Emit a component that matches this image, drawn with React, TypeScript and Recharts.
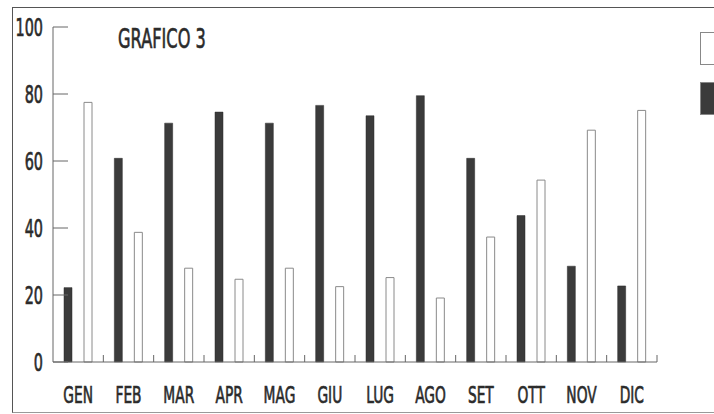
import { BarChart, Bar, XAxis, YAxis, Legend } from "recharts";

const months = ["GEN", "FEB", "MAR", "APR", "MAG", "GIU", "LUG", "AGO", "SET", "OTT", "NOV", "DIC"];
const darkValues = [22.2, 60.8, 71.3, 74.6, 71.3, 76.6, 73.5, 79.5, 60.8, 43.7, 28.6, 22.7];
const lightValues = [77.5, 38.7, 28.0, 24.7, 28.0, 22.5, 25.2, 19.1, 37.3, 54.3, 69.2, 75.1];
const yTicks = [0, 20, 40, 60, 80, 100];

const data = months.map((m, i) => ({ month: m, scuri: darkValues[i], chiari: lightValues[i] }));

const W = 714;
const H = 414;
const Y_AXIS_W = 53;
const RIGHT = 57;
const BAND = (W - Y_AXIS_W - RIGHT) / months.length;

const FONT = "DejaVu Sans";
const INK = "#2b2b2b";
const DARK = "#3b3b3b";

// ticks point inward, labels squeezed to look like the condensed print face
const YTick = (props: any) => {
  const { x, y, payload } = props;
  return (
    <g>
      <line x1={x} x2={x + 15} y1={y} y2={y} stroke="#666" strokeWidth={1} />
      <text
        transform={`translate(${x - 10},${y + 9}) scale(0.6,1)`}
        textAnchor="end"
        fontSize={24}
        fontFamily={FONT}
        fill={INK}
        stroke={INK}
        strokeWidth={0.7}
      >
        {payload.value}
      </text>
    </g>
  );
};

const XTick = (props: any) => {
  const { x, y, payload } = props;
  const edge = x + BAND / 2;
  return (
    <g>
      <line x1={edge} x2={edge} y1={y} y2={y - 7} stroke="#666" strokeWidth={1} />
      <text
        transform={`translate(${x},${y + 41}) scale(0.6,1)`}
        textAnchor="middle"
        fontSize={23}
        fontFamily={FONT}
        fill={INK}
        stroke={INK}
        strokeWidth={0.7}
      >
        {payload.value}
      </text>
    </g>
  );
};

const legendOrder = ["chiari", "scuri"];

const LegendBoxes = ({ payload }: any) => {
  const items = [...(payload || [])].sort(
    (a: any, b: any) => legendOrder.indexOf(a.dataKey) - legendOrder.indexOf(b.dataKey)
  );
  return (
    <div>
      {items.map((p: any) => (
        <div
          key={p.dataKey}
          style={{
            width: 30,
            height: 33,
            boxSizing: "border-box",
            background: p.color,
            border: "1px solid #888",
            marginBottom: 17,
          }}
        />
      ))}
    </div>
  );
};

export default function App() {
  return (
    <div style={{ position: "fixed", left: 0, top: 0, width: W, height: H, overflow: "hidden", background: "#fff" }}>
      <div
        style={{
          position: "absolute",
          left: 12,
          top: 7,
          width: 800,
          height: 404,
          borderLeft: "1.5px solid #555",
          borderTop: "1.5px solid #555",
          borderBottom: "1px solid #999",
        }}
      />
      <div
        style={{
          position: "absolute",
          left: 118,
          top: 25,
          fontFamily: FONT,
          fontSize: 27,
          lineHeight: 1,
          color: INK,
          WebkitTextStroke: "0.7px #2b2b2b",
          whiteSpace: "nowrap",
          transform: "scaleX(0.6)",
          transformOrigin: "left top",
        }}
      >
        GRAFICO 3
      </div>
      <div style={{ position: "absolute", left: 0, top: 0 }}>
        <BarChart
          width={W}
          height={H}
          data={data}
          margin={{ top: 27, right: RIGHT, left: 0, bottom: 0 }}
          barSize={8}
          barGap={12}
        >
          <XAxis
            dataKey="month"
            height={52}
            interval={0}
            tickSize={0}
            tickMargin={0}
            tickLine={false}
            axisLine={{ stroke: "#666", strokeWidth: 1 }}
            tick={<XTick />}
          />
          <YAxis
            width={Y_AXIS_W}
            domain={[0, 100]}
            ticks={yTicks}
            interval={0}
            tickSize={0}
            tickMargin={0}
            tickLine={false}
            axisLine={{ stroke: "#666", strokeWidth: 1 }}
            tick={<YTick />}
          />
          <Legend
            layout="vertical"
            align="center"
            verticalAlign="middle"
            wrapperStyle={{ left: 700, top: 32, width: 40, right: "auto" }}
            content={<LegendBoxes />}
          />
          <Bar dataKey="scuri" name="Serie 1" fill={DARK} stroke="#2a2a2a" strokeWidth={0.5} isAnimationActive={false} />
          <Bar dataKey="chiari" name="Serie 2" fill="#ffffff" stroke="#8a8a8a" strokeWidth={1} isAnimationActive={false} />
        </BarChart>
      </div>
    </div>
  );
}
